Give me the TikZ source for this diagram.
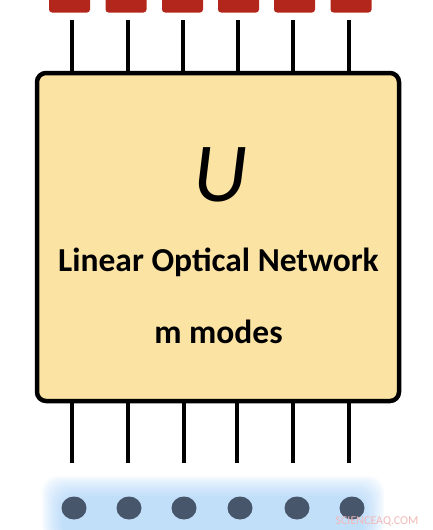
\documentclass[tikz,border=0pt]{standalone}
\usepackage{fontspec}
\setmainfont{Carlito}
\usetikzlibrary{calc,shapes.geometric}
\definecolor{boxfill}{HTML}{FBE4A3}
\definecolor{portred}{HTML}{B3261B}
\definecolor{dotgray}{HTML}{48566B}
\definecolor{glow}{HTML}{9FCCF7}
\definecolor{wm}{HTML}{F2B8B8}
\tikzset{
  wire/.style={line width=4pt, black},
  netbox/.style={draw=black, line width=4.5pt, fill=boxfill, rounded corners=9pt},
  outport/.style={fill=portred, draw=none, rounded corners=3pt},
  photon/.style={ellipse, fill=dotgray, minimum width=25pt, minimum height=23pt, inner sep=0pt},
}
\begin{document}
\begin{tikzpicture}[x=1pt,y=-1pt]
\useasboundingbox (0,0) rectangle (432,530);
% glow band (soft edges from stacked translucent layers)
\foreach \o in {10,8,...,-10}{
  \fill[glow, opacity=0.085, rounded corners=16pt] (52-\o,486-\o) rectangle (374+\o,540);
}
% box
\draw[netbox] (37,73) rectangle (399,401);
\coordinate (boxtop) at (0,73);
\coordinate (boxbot) at (0,401);
% output ports (top)
\foreach \i/\x/\cx in {1/72/69.5,2/128/126,3/183/182.5,4/238/238.5,5/293/294.5,6/349/351}{
  \path[outport] (\cx-20.5,-5) rectangle (\cx+20.5,12.5);
  \coordinate (t\i) at (\x,20);
  \draw[wire] (t\i) -- (t\i |- boxtop);
}
% input modes (bottom)
\foreach \i/\x/\cx in {1/72/74,2/128/129,3/184/184,4/237/240,5/293/297,6/349/352}{
  \coordinate (b\i) at (\x,463);
  \draw[wire] (b\i |- boxbot) -- (b\i);
  \node[photon] (p\i) at (\cx,508) {};
}
\node (U) at (220,175) {\fontsize{84}{84}\selectfont\itshape U};
\node[anchor=base] (lon) at (218.5,271) {\fontsize{33.5}{33}\selectfont\bfseries Linear Optical Network};
\node[anchor=base] (mm) at (218.5,343) {\fontsize{33.5}{33}\selectfont\bfseries m modes};
\node[anchor=base, text=wm] (wmk) at (377,524) {\fontsize{12}{12}\selectfont SCIENCEAQ.COM};
\end{tikzpicture}
\end{document}
